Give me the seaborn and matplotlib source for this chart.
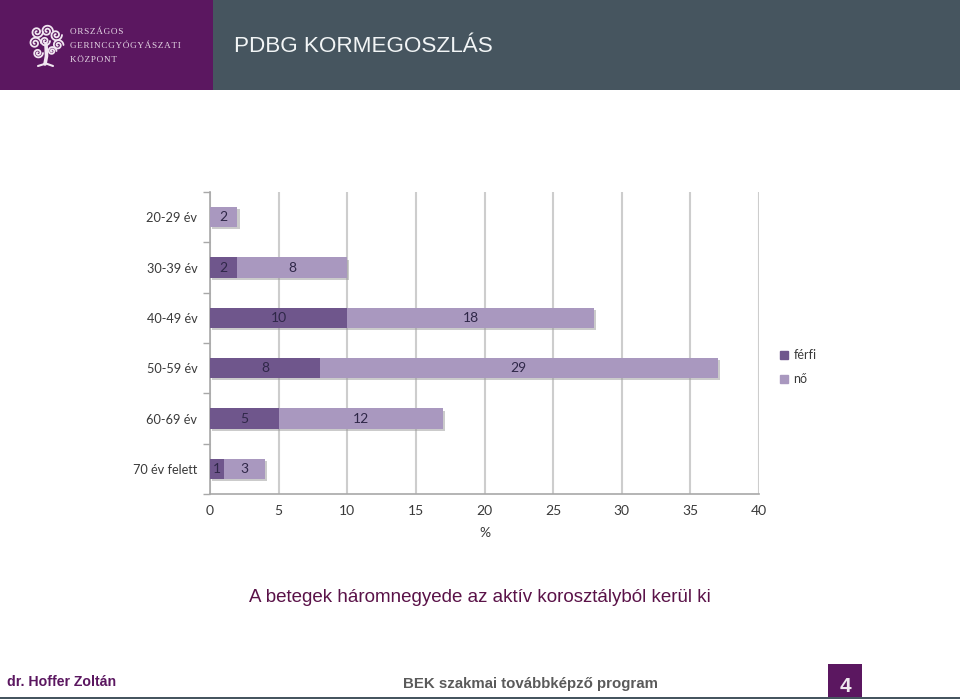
import numpy as np
import pandas as pd
import matplotlib
matplotlib.use('Agg')
import matplotlib.pyplot as plt
import matplotlib.patheffects as pe
from matplotlib.patches import Rectangle, Patch
import seaborn as sns

age_groups = ['20-29 év', '30-39 év', '40-49 év', '50-59 év', '60-69 év', '70 év felett']
ferfi = [0, 2, 10, 8, 5, 1]
no = [2, 8, 18, 29, 12, 3]
x_ticks = [0, 5, 10, 15, 20, 25, 30, 35, 40]

PURPLE = '#5B1760'
SLATE = '#46555F'
COL_F = '#6F568C'
COL_N = '#A998BF'
TXT = '#3A3A3A'

df = pd.DataFrame({'kor': age_groups, 'ferfi': ferfi, 'no': no})

sns.set_theme(style='white')
plt.rcParams['font.family'] = ['Lato', 'DejaVu Sans']

fig = plt.figure(figsize=(9.6, 6.99), dpi=100)

# slide frame in pixel coordinates
bg = fig.add_axes([0, 0, 1, 1], zorder=0)
bg.set_xlim(0, 960)
bg.set_ylim(699, 0)
bg.axis('off')
bg.add_patch(Rectangle((0, 0), 213, 90, color=PURPLE, lw=0))
bg.add_patch(Rectangle((213, 0), 747, 90, color=SLATE, lw=0))
bg.add_patch(Rectangle((0, 697), 960, 2, color=SLATE, lw=0))
bg.add_patch(Rectangle((828, 664), 34, 33, color=PURPLE, lw=0))

# logo tree
def spiral(cx, cy, r, turn=1):
    t = np.linspace(0, 3.4 * np.pi, 60)
    rr = r * (1 - t / t.max() * 0.85)
    bg.plot(cx + rr * np.cos(t * turn), cy + rr * np.sin(t * turn),
            color='#F1E6F1', lw=1.3, solid_capstyle='round')

for cx, cy, r, turn in [(37, 32, 6, 1), (47, 31, 6, -1), (56, 35, 6, 1),
                        (35, 43, 6, -1), (45, 41, 5, 1), (58, 45, 5.5, -1),
                        (38, 53, 5, 1), (52, 51, 4.5, -1)]:
    spiral(cx, cy, r, turn)
bg.plot([46, 46.5, 45], [44, 56, 64], color='#F1E6F1', lw=2.6)
bg.plot([38, 46, 53], [66, 63.5, 66], color='#F1E6F1', lw=1.5)

spaced = '\u200a'.join
for label, y in [('ORSZÁGOS', 32), ('GERINCGYÓGYÁSZATI', 46), ('KÖZPONT', 60)]:
    bg.text(70, y, spaced(label), family=['Liberation Serif'], fontsize=6.6,
            color='#E6D8E6', va='center', ha='left')

bg.text(234, 47, 'PDBG KORMEGOSZLÁS', family=['Liberation Sans'], fontsize=16.2,
        color='#F2F5F6', va='center', ha='left')
bg.text(480, 597, 'A betegek háromnegyede az aktív korosztályból kerül ki',
        family=['Liberation Sans'], fontsize=13.5, color='#5A1248', va='center', ha='center')
bg.text(7, 682, 'dr. Hoffer Zoltán', family=['Liberation Sans'], fontsize=10.2,
        fontweight='bold', color=PURPLE, va='center', ha='left')
bg.text(403, 684, 'BEK szakmai továbbképző program', family=['Liberation Sans'], fontsize=10.8,
        fontweight='bold', color='#5A5A5A', va='center', ha='left')
bg.text(845.5, 686, '4', family=['Liberation Sans'], fontsize=15,
        fontweight='bold', color='#EFE8EF', va='center', ha='center')

# chart
ax = fig.add_axes([210 / 960, 1 - 494 / 699, 549 / 960, 302 / 699], zorder=1)
ax.patch.set_alpha(0)
shadow = [pe.SimplePatchShadow(offset=(1.5, -1.5), shadow_rgbFace='#999999', alpha=0.5), pe.Normal()]
sns.barplot(data=df, y='kor', x='ferfi', color=COL_F, saturation=1, width=0.4,
            ax=ax, zorder=3, edgecolor='none')
sns.barplot(data=df, y='kor', x='no', color=COL_N, saturation=1, width=0.4,
            left=df['ferfi'], ax=ax, zorder=3, edgecolor='none')

for c, vals in zip(ax.containers, [ferfi, no]):
    for bar in c:
        bar.set_path_effects(shadow)
    ax.bar_label(c, labels=[str(v) if v else '' for v in vals], label_type='center',
                 fontsize=10, color='#2F2748', zorder=5)

ax.set_xlim(0, 40)
ax.set_ylim(5.5, -0.5)
ax.set_xticks(x_ticks)
ax.set_xlabel('%', fontsize=10, color=TXT, labelpad=7)
ax.set_ylabel('')
ax.xaxis.grid(True, color='#CDCDCD', lw=1.5, zorder=0)
ax.yaxis.grid(False)
ax.set_axisbelow(True)
for s in ['top', 'right']:
    ax.spines[s].set_visible(False)
for s in ['left', 'bottom']:
    ax.spines[s].set_color('#A8A8A8')
    ax.spines[s].set_linewidth(1.2)
ax.set_yticks(np.arange(-0.5, 6, 1), minor=True)
ax.tick_params(axis='y', which='major', length=0, pad=9, labelsize=9.2, labelcolor=TXT)
ax.tick_params(axis='y', which='minor', left=True, length=5, width=1, color='#A8A8A8')
ax.tick_params(axis='x', length=0, pad=8, labelsize=10, labelcolor=TXT)

handles = [Patch(color=COL_F, label='férfi'), Patch(color=COL_N, label='nő')]
leg = fig.legend(handles=handles, loc='upper left', bbox_to_anchor=(769 / 960, 1 - 338 / 699),
                 frameon=False, fontsize=9, handlelength=0.65, handleheight=0.65,
                 handletextpad=0.4, labelspacing=0.95, labelcolor=TXT)

fig.savefig('out.png', dpi=100)
